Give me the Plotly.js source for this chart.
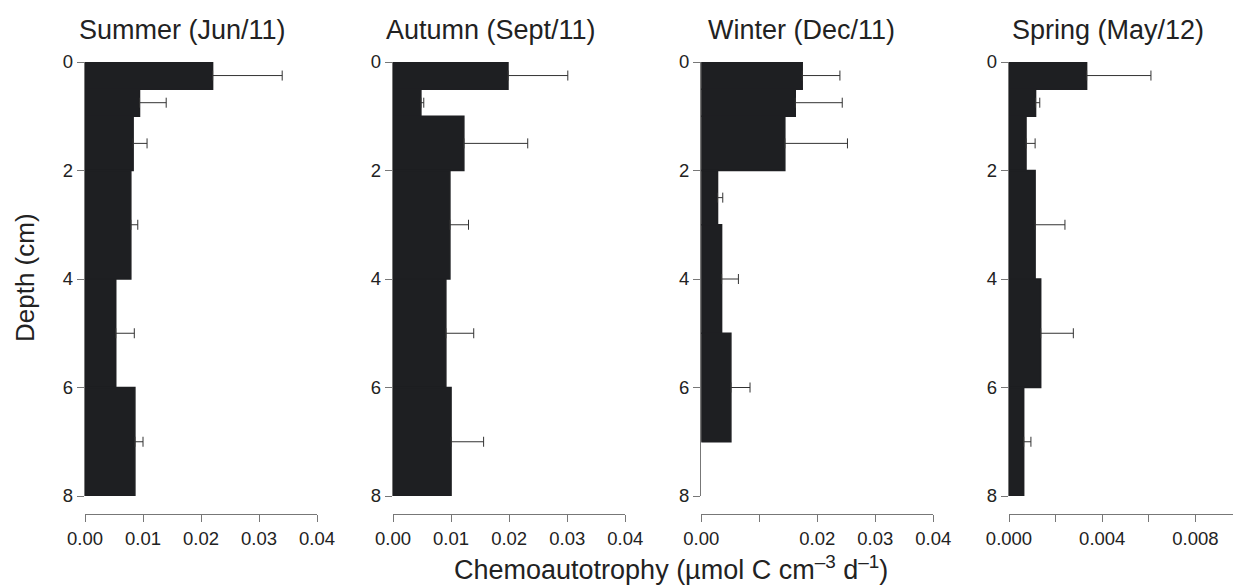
<!DOCTYPE html>
<html>
<head>
<meta charset="utf-8">
<script src="https://cdn.plot.ly/plotly-3.0.1.min.js"></script>
<style>html,body{margin:0;padding:0;background:#fff;}#chart{width:1233px;height:587px;}</style>
</head>
<body>
<div id="chart"></div>
<script>
// Season panel titles
const seasons = ["Summer (Jun/11)", "Autumn (Sept/11)", "Winter (Dec/11)", "Spring (May/12)"];

// Depth layers (cm): tops and bottoms of each sediment slice
const topsStd = [0, 0.5, 1, 2, 4, 6];
const botsStd = [0.5, 1, 2, 4, 6, 8];
const topsWinter = [0, 0.5, 1, 2, 3, 5];
const botsWinter = [0.5, 1, 2, 3, 5, 7];

// Chemoautotrophy means (µmol C cm-3 d-1)
const summerVals = [0.0220, 0.0094, 0.0083, 0.0079, 0.0053, 0.0086];
const autumnVals = [0.0198, 0.0048, 0.0122, 0.0098, 0.0091, 0.0100];
const winterVals = [0.0174, 0.0162, 0.0144, 0.0028, 0.0035, 0.0051];
const springVals = [0.00333, 0.00114, 0.00073, 0.00112, 0.00136, 0.00063];

// Error (positive side only)
const summerErr = [0.0120, 0.0046, 0.0024, 0.0012, 0.0032, 0.0014];
const autumnErr = [0.0103, 0.0005, 0.0110, 0.0032, 0.0048, 0.0056];
const winterErr = [0.0065, 0.0081, 0.0108, 0.0009, 0.0029, 0.0033];
const springErr = [0.00276, 0.00018, 0.00039, 0.00128, 0.00140, 0.00031];

// Axis ticks
const depthTicks = [0, 2, 4, 6, 8];
const xTicksA = [0, 0.01, 0.02, 0.03, 0.04];
const xTextA = ["0.00", "0.01", "0.02", "0.03", "0.04"];
const xTicksWinter = [0, 0.02, 0.03, 0.04];
const xTextWinter = ["0.00", "0.02", "0.03", "0.04"];
const xMinorWinter = [0.01];
const xTicksSpring = [0, 0.004, 0.008];
const xTextSpring = ["0.000", "0.004", "0.008"];
const xMinorSpring = [0.002, 0.006];

const W = 1233, H = 587;
const FONT = "Liberation Sans, Arial, Helvetica, sans-serif";
const panels = [
  {vals: summerVals, err: summerErr, tops: topsStd, bots: botsStd, x0: 85, x1: 317, range: [0, 0.04], tv: xTicksA, tt: xTextA, minor: []},
  {vals: autumnVals, err: autumnErr, tops: topsStd, bots: botsStd, x0: 393, x1: 625.3, range: [0, 0.04], tv: xTicksA, tt: xTextA, minor: []},
  {vals: winterVals, err: winterErr, tops: topsWinter, bots: botsWinter, x0: 701.3, x1: 933.3, range: [0, 0.04], tv: xTicksWinter, tt: xTextWinter, minor: xMinorWinter},
  {vals: springVals, err: springErr, tops: topsStd, bots: botsStd, x0: 1009, x1: 1233, range: [0, 0.00961], tv: xTicksSpring, tt: xTextSpring, minor: xMinorSpring}
];
const titleCenters = [182, 491, 801, 1108];

const yTop = 62, yBot = 496, xAxisY = 514;
const traces = [];
const layout = {
  width: W, height: H,
  margin: {l: 0, r: 0, t: 0, b: 0},
  paper_bgcolor: "#fff", plot_bgcolor: "rgba(0,0,0,0)",
  showlegend: false,
  font: {family: FONT, size: 18, color: "#222"},
  annotations: []
};

panels.forEach((p, i) => {
  const n = i === 0 ? "" : String(i + 1);
  const mids = p.tops.map((t, k) => (t + p.bots[k]) / 2);
  const widths = p.tops.map((t, k) => p.bots[k] - t);
  traces.push({
    type: "bar", orientation: "h",
    x: p.vals, y: mids, width: widths,
    xaxis: "x" + n, yaxis: "y" + n,
    marker: {color: "#1e1f22", line: {width: 1.5, color: "#1e1f22"}},
    error_x: {type: "data", symmetric: false, array: p.err, arrayminus: p.err.map(() => 0),
              color: "#333", thickness: 1, width: 5},
    hoverinfo: "skip"
  });
  const xa = {
    domain: [p.x0 / W, p.x1 / W],
    anchor: "free", position: (H - xAxisY) / H,
    range: p.range, tickmode: "array", tickvals: p.tv, ticktext: p.tt,
    ticks: "outside", ticklen: 7, tickwidth: 1, tickcolor: "#777",
    showline: true, linecolor: "#777", linewidth: 1.3,
    showgrid: false, zeroline: false,
    tickfont: {family: FONT, size: 18.5, color: "#222"}
  };
  if (p.minor.length) {
    xa.minor = {tickmode: "array", tickvals: p.minor, ticks: "outside", ticklen: 7, tickwidth: 1, tickcolor: "#777", showgrid: false};
  }
  layout["xaxis" + n] = xa;
  layout["yaxis" + n] = {
    domain: [(H - yBot) / H, (H - yTop) / H],
    anchor: "x" + n,
    range: [8, 0], tickmode: "array", tickvals: depthTicks,
    ticks: "outside", ticklen: 7, tickwidth: 1, tickcolor: "#777",
    showline: true, linecolor: "#777", linewidth: 1.3,
    showgrid: false, zeroline: false,
    tickfont: {family: FONT, size: 18.5, color: "#222"}
  };
  layout.annotations.push({
    text: seasons[i], xref: "paper", yref: "paper",
    x: titleCenters[i] / W, y: (H - 30) / H, xanchor: "center", yanchor: "middle",
    showarrow: false, font: {family: FONT, size: 27, color: "#222"}
  });
});

layout.annotations.push({
  text: "Depth (cm)", xref: "paper", yref: "paper", textangle: -90,
  x: 25 / W, y: (H - 278) / H, xanchor: "center", yanchor: "middle",
  showarrow: false, font: {family: FONT, size: 26, color: "#222"}
});
layout.annotations.push({
  text: "Chemoautotrophy (µmol C cm<sup>–3</sup> d<sup>–1</sup>)", xref: "paper", yref: "paper",
  x: 671 / W, y: (H - 568) / H, xanchor: "center", yanchor: "middle",
  showarrow: false, font: {family: FONT, size: 27, color: "#222"}
});

Plotly.newPlot("chart", traces, layout, {staticPlot: true});
</script>
</body>
</html>
